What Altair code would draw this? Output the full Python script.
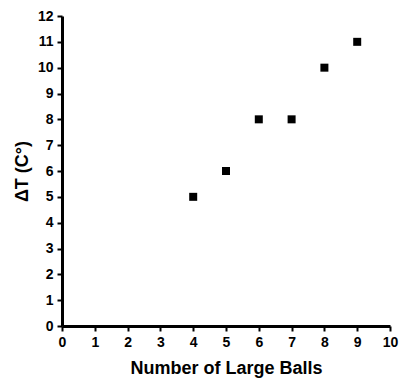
import altair as alt
import pandas as pd

# Temperature rise against the number of large balls
balls = [4, 5, 6, 7, 8, 9]
delta_t = [5, 6, 8, 8, 10, 11]

x_ticks = list(range(0, 11))
y_ticks = list(range(0, 13))

df = pd.DataFrame({"balls": balls, "dt": delta_t})

font = "Liberation Sans"

axis_style = dict(
    grid=False,
    format="d",
    domainColor="black",
    domainWidth=3,
    tickColor="black",
    tickWidth=2,
    tickSize=5,
    labelFont=font,
    labelFontSize=14,
    labelFontWeight="bold",
    labelColor="black",
    labelFlush=False,
    labelOverlap=False,
    labelPadding=4,
    titleFont=font,
    titleFontSize=18,
    titleFontWeight="bold",
    titleColor="black",
)

chart = (
    alt.Chart(df)
    .mark_square(size=64, color="black", opacity=1)
    .encode(
        x=alt.X(
            "balls:Q",
            scale=alt.Scale(domain=[0, 10], nice=False, zero=True),
            axis=alt.Axis(values=x_ticks, title="Number of Large Balls",
                          titlePadding=10, **axis_style),
        ),
        y=alt.Y(
            "dt:Q",
            scale=alt.Scale(domain=[0, 12], nice=False, zero=True),
            axis=alt.Axis(values=y_ticks, title="ΔT (C°)",
                          titlePadding=6, **axis_style),
        ),
    )
    .properties(
        width=328,
        height=310,
        autosize=alt.AutoSizeParams(type="none"),
        padding={"left": 62, "top": 16, "right": 9, "bottom": 53},
    )
    .configure_view(stroke=None)
)

chart.save("out.html", embed_options={"renderer": "svg", "actions": False})
